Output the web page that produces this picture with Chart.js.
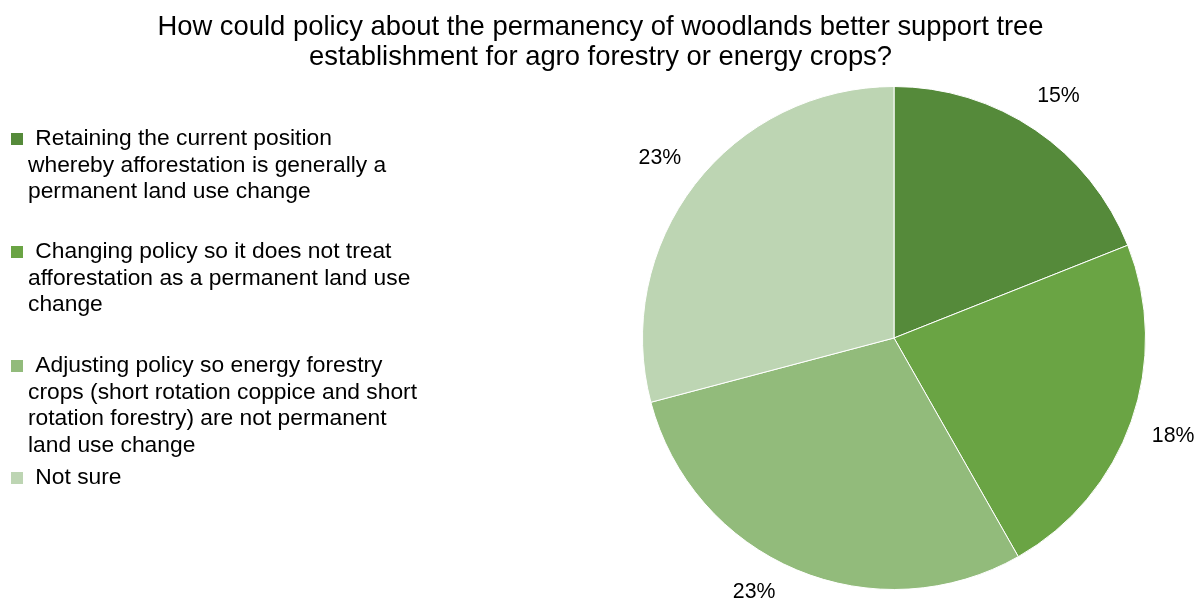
<!DOCTYPE html>
<html>
<head>
<meta charset="utf-8">
<script src="https://cdn.jsdelivr.net/npm/chart.js@4/dist/chart.umd.min.js"></script>
<style>
  html, body { margin: 0; padding: 0; background: #fff; }
  #wrap { position: relative; width: 1201px; height: 600px; }
</style>
</head>
<body>
<div id="wrap"><canvas id="pie"></canvas></div>
<script>
const titulo = [
    'How could policy about the permanency of woodlands better support tree',
    'establishment for agro forestry or energy crops?'
];

const categorias = [
    ['Retaining the current position', 'whereby afforestation is generally a', 'permanent land use change'],
    ['Changing policy so it does not treat', 'afforestation as a permanent land use', 'change'],
    ['Adjusting policy so energy forestry', 'crops (short rotation coppice and short', 'rotation forestry) are not permanent', 'land use change'],
    ['Not sure']
];

const percentuais = [15, 18, 23, 23];

const cores = ['#558a3a', '#6aa444', '#92bb7b', '#bdd5b3'];

// linha central do primeiro texto de cada item da legenda
const legendaY = [139, 252, 366, 478];

const fonteTexto = "'Liberation Sans', Arial, sans-serif";

const tituloPlugin = {
    id: 'tituloDuasLinhas',
    afterDraw(chart) {
        const c = chart.ctx;
        c.save();
        c.font = '27.4px ' + fonteTexto;
        c.fillStyle = '#000';
        c.textAlign = 'center';
        c.textBaseline = 'alphabetic';
        titulo.forEach(function(linha, i) {
            c.fillText(linha, chart.width / 2, 35 + i * 30);
        });
        c.restore();
    }
};

const legendaPlugin = {
    id: 'legendaLateral',
    afterDraw(chart) {
        const c = chart.ctx;
        c.save();
        c.font = '22.8px ' + fonteTexto;
        c.textBaseline = 'middle';
        c.textAlign = 'left';
        categorias.forEach(function(linhas, i) {
            const y0 = legendaY[i];
            c.fillStyle = cores[i];
            c.fillRect(11, y0 - 6, 12, 12);
            c.fillStyle = '#000';
            linhas.forEach(function(txt, j) {
                c.fillText(j === 0 ? ' ' + txt : txt, j === 0 ? 29 : 28, y0 + j * 26.5);
            });
        });
        c.restore();
    }
};

// rótulos fora da pizza, empurrados para dentro da tela quando passam da borda
const rotulosPlugin = {
    id: 'rotulosFatias',
    afterDatasetsDraw(chart) {
        const c = chart.ctx;
        const meta = chart.getDatasetMeta(0);
        c.save();
        c.font = '21.3px ' + fonteTexto;
        c.fillStyle = '#000';
        c.textAlign = 'center';
        c.textBaseline = 'middle';
        meta.data.forEach(function(arco, i) {
            const p = arco.getProps(['x', 'y', 'startAngle', 'endAngle', 'outerRadius'], true);
            const texto = percentuais[i] + '%';
            const w = c.measureText(texto).width;
            const meio = (p.startAngle + p.endAngle) / 2;
            const dx = Math.cos(meio), dy = Math.sin(meio);
            const r = p.outerRadius + 21 + Math.abs(dx) * w / 2 + Math.abs(dy) * 10;
            let x = p.x + dx * r;
            let y = p.y + dy * r;
            const limite = chart.height - 8;
            if (y > limite) {
                y = limite;
                const lado = dx < 0 ? -1 : 1;
                x = p.x + lado * Math.sqrt(r * r - (y - p.y) * (y - p.y));
            }
            c.fillText(texto, x, y);
        });
        c.restore();
    }
};

const ctx = document.getElementById('pie');

const grafico = new Chart(ctx, {
    type: 'pie',
    data: {
        labels: categorias.map(function(l) { return l.join(' '); }),
        datasets: [{
            data: percentuais,
            backgroundColor: cores,
            borderColor: '#ffffff',
            borderWidth: 1
        }]
    },
    options: {
        responsive: true,
        maintainAspectRatio: false,
        animation: false,
        layout: {
            padding: { left: 642, right: 55, top: 86, bottom: 10 }
        },
        plugins: {
            legend: { display: false },
            tooltip: { enabled: false },
            title: { display: false }
        }
    },
    plugins: [tituloPlugin, legendaPlugin, rotulosPlugin]
});
</script>
</body>
</html>
